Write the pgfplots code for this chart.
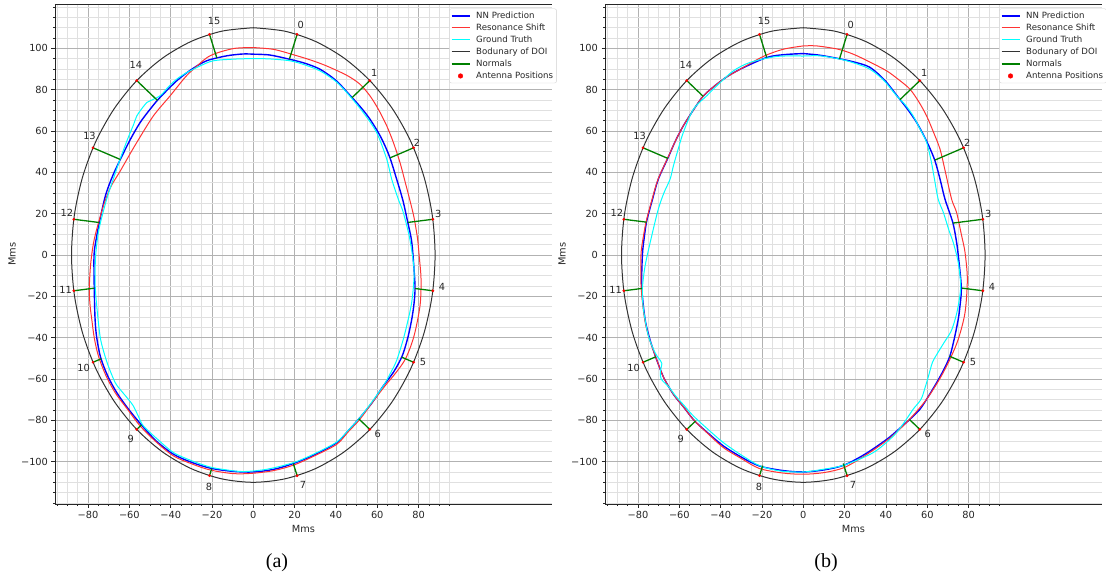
\documentclass[border=0pt]{standalone}
\usepackage{fontspec}
\setmainfont{DejaVu Sans}
\newfontfamily\capfont{Liberation Serif}
\usepackage{pgfplots}
\usepackage{pgfplotstable}
\pgfplotsset{compat=1.18}
\definecolor{mplgreen}{RGB}{0,128,0}
\definecolor{mplred}{RGB}{255,51,51}
\definecolor{mplblue}{RGB}{0,0,255}
\definecolor{mplcyan}{RGB}{0,255,255}
\definecolor{mpldot}{RGB}{255,0,0}
\definecolor{bndc}{RGB}{51,51,51}
\definecolor{txt}{RGB}{38,38,38}

\pgfplotstableread{
x y
0 110
15.28 108.33
30.10 103.37
44.0 95.26
56.57 84.26
67.41 70.71
76.21 55.0
82.69 37.62
86.66 19.10
88 0
86.66 -19.10
82.69 -37.62
76.21 -55.0
67.41 -70.71
56.57 -84.26
44.0 -95.26
30.10 -103.37
15.28 -108.33
0 -110
-15.28 -108.33
-30.10 -103.37
-44.0 -95.26
-56.57 -84.26
-67.41 -70.71
-76.21 -55.0
-82.69 -37.62
-86.66 -19.10
-88 0
-86.66 19.10
-82.69 37.62
-76.21 55.0
-67.41 70.71
-56.57 84.26
-44.0 95.26
-30.10 103.37
-15.28 108.33
0 110
}\ellipsetab

\pgfplotstableread{
x y
21.2 106.8
56.4 84.4
77.6 51.9
86.9 17.3
86.9 -17.3
77.6 -51.9
56.4 -84.4
21.2 -106.8
-21.2 -106.8
-56.4 -84.4
-77.6 -51.9
-86.9 -17.3
-86.9 17.3
-77.6 51.9
-56.4 84.4
-21.2 106.8
}\antennatab

\pgfplotstableread{
x y
21.2 106.8
17.47 94.77
nan nan
56.4 84.4
47.81 76.17
nan nan
77.6 51.9
66.2 47.02
nan nan
86.9 17.3
74.8 15.76
nan nan
86.9 -17.3
78.27 -16.2
nan nan
77.6 -51.9
71.81 -49.42
nan nan
56.4 -84.4
51.06 -79.28
nan nan
21.2 -106.8
19.36 -100.88
nan nan
-21.2 -106.8
-20.13 -103.36
nan nan
-56.4 -84.4
-54.16 -82.26
nan nan
-77.6 -51.9
-73.56 -50.17
nan nan
-86.9 -17.3
-76.98 -16.04
nan nan
-86.9 17.3
-74.5 15.72
nan nan
-77.6 51.9
-64.36 46.23
nan nan
-56.4 84.4
-46.43 74.85
nan nan
-21.2 106.8
-17.64 95.34
}\normalsA

\pgfplotstableread{
x y
21.2 106.8
17.5 94.86
nan nan
56.4 84.4
46.79 75.2
nan nan
77.6 51.9
63.63 45.92
nan nan
86.9 17.3
72.42 15.45
nan nan
86.9 -17.3
76.78 -16.01
nan nan
77.6 -51.9
70.71 -48.95
nan nan
56.4 -84.4
51.42 -79.63
nan nan
21.2 -106.8
19.36 -100.88
nan nan
-21.2 -106.8
-19.69 -101.93
nan nan
-56.4 -84.4
-52.14 -80.32
nan nan
-77.6 -51.9
-71.35 -49.22
nan nan
-86.9 -17.3
-78.07 -16.18
nan nan
-86.9 17.3
-75.89 15.9
nan nan
-77.6 51.9
-65.56 46.75
nan nan
-56.4 84.4
-48.53 76.86
nan nan
-21.2 106.8
-17.73 95.63
}\normalsB

\newcommand{\antlabels}{%
\node[antlab] at (axis cs:23,111.5) {0};
\node[antlab] at (axis cs:58.5,88.2) {1};
\node[antlab] at (axis cs:79.3,54.5) {2};
\node[antlab] at (axis cs:89.5,20.1) {3};
\node[antlab] at (axis cs:91.4,-15.5) {4};
\node[antlab] at (axis cs:82.2,-52) {5};
\node[antlab] at (axis cs:60.2,-86.5) {6};
\node[antlab] at (axis cs:24,-111.3) {7};
\node[antlab] at (axis cs:-21.4,-112.3) {8};
\node[antlab] at (axis cs:-59.3,-88.9) {9};
\node[antlab] at (axis cs:-82.2,-54.8) {10};
\node[antlab] at (axis cs:-90.9,-16.8) {11};
\node[antlab] at (axis cs:-90.3,20.6) {12};
\node[antlab] at (axis cs:-79.3,57.4) {13};
\node[antlab] at (axis cs:-56.9,92) {14};
\node[antlab] at (axis cs:-19,113.4) {15};
}

\tikzset{antlab/.style={font=\fontsize{9.8}{11}\selectfont, text=txt, inner sep=0pt, anchor=center}}

\pgfplotsset{
 antleg/.style={legend image code/.code={\draw[##1, mark size=2.3pt] plot coordinates {(9pt,0pt)};}},
 panel/.style={
  scale only axis, width=497pt, height=499.4pt,
  xmin=-96, xmax=144.6, ymin=-120.5, ymax=121.2,
  separate axis lines, axis x line*=bottom, axis y line*=left,
  axis line style={black!85, line width=0.6pt},
  xtick={-80,-60,...,80}, xticklabels={−80,−60,−40,−20,0,20,40,60,80},
  ytick={-100,-80,...,100}, yticklabels={−100,−80,−60,−40,−20,0,20,40,60,80,100},
  minor xtick={-95,-90,...,95}, minor ytick={-120,-115,...,120},
  grid=both,
  major grid style={draw=black!30, line width=0.6pt},
  minor grid style={draw=black!12, line width=0.5pt},
  tick align=outside, major tick length=3.5pt, minor tick length=2pt,
  every tick/.style={black!85, line width=0.6pt},
  tick label style={font=\fontsize{9.8}{11}\selectfont, text=txt},
  xlabel=Mms, ylabel=Mms,
  label style={font=\fontsize{9.8}{11}\selectfont, text=txt},
  xlabel style={at={(axis description cs:0.5,-0.05)}, anchor=center},
  ylabel style={at={(axis description cs:-0.0865,0.5)}, anchor=center},
  legend cell align=left,
  legend style={at={(axis description cs:0.793,0.992)}, anchor=north west,
    font=\fontsize{8.6}{10}\selectfont, text=txt, draw=black!18, fill=white,
    rounded corners=2pt, inner xsep=1.5pt, inner ysep=1pt, row sep=0pt,
    /tikz/every odd column/.append style={column sep=4pt}},
  legend image code/.code={\draw[mark repeat=2,mark phase=2,##1] plot coordinates {(0pt,0pt) (9pt,0pt) (18pt,0pt)};},
 }
}

\begin{document}
\begin{tikzpicture}[x=1pt,y=1pt]
\path[use as bounding box] (0,0) rectangle (1106,581);

% ---------------- panel (a) ----------------
\begin{axis}[panel, at={(55pt,77pt)}, anchor=south west]
\addplot[mplblue, line width=1.4pt, smooth] coordinates {
(0,97.2) (8,96.8) (17.3,94.8) (25,92.8) (32.3,89.9) (40,84.5) (46.8,77.3) (52,71.5) (56.5,65.7) (61.5,57.5) (65.8,48) (69.4,36.7) (72.4,26.5) (74.7,16.2) (76.6,7) (77.6,-4) (78.3,-15.7) (77.8,-23.5) (76.7,-31.1) (74.8,-40) (72.1,-48.8) (68,-56.5) (62.9,-63.4) (57.5,-71.5) (51.3,-79.1) (46,-85) (40.4,-90.8) (30,-96.5) (19.7,-100.8) (10,-103.7) (0,-105) (-10,-104.7) (-20.6,-103.2) (-30,-100.3) (-38.7,-96.4) (-47,-90) (-54,-82.4) (-60.5,-74.5) (-66.1,-66.6) (-70.5,-58.5) (-73.9,-49.6) (-75.8,-40) (-76.6,-31.1) (-77,-15.7) (-77.1,0) (-76,8) (-74.5,16) (-71.5,29) (-68,38.5) (-64.3,46.4) (-59.5,56) (-54.8,64.1) (-50,70.5) (-45.5,75.9) (-37.1,84.3) (-29.8,89.9) (-22.6,94) (-12.9,96.4) (-5,97.3) (0,97.2)
};
\addlegendentry{NN Prediction}
\addplot[mplred, line width=1pt, smooth] coordinates {
(0,100.4) (10,99.5) (20.2,96.7) (28,94.3) (35.5,91.5) (45.2,87) (51.6,82.7) (56.5,77) (60.5,70.6) (64.6,62.5) (67.8,54.5) (71,44.8) (73.6,35) (75.8,26.5) (77.8,18.2) (79.5,8) (80.3,-0.4) (81.2,-11.7) (80.7,-24.6) (77.8,-39.2) (73.8,-50) (69,-57) (63.7,-63.4) (57.5,-71.5) (51.6,-79.5) (46,-85.5) (40.4,-91.6) (30,-97) (19.7,-101.6) (10,-104.3) (0,-105.6) (-9.7,-105.8) (-21,-104) (-30,-101) (-38.7,-97.2) (-47,-90.5) (-54.8,-82.7) (-61,-74.5) (-66.9,-66.6) (-71.5,-58) (-75,-48.8) (-77,-40) (-78.2,-31.1) (-79,-24.6) (-79.4,-16.6) (-78.8,-5) (-77.5,5) (-75.8,12.5) (-72.5,24) (-69,33) (-64.5,40.5) (-60.5,47.5) (-56.4,54.5) (-48.4,67.3) (-40.3,77) (-33.1,85.9) (-29,89.9) (-21,96.4) (-9.7,99.9) (0,100.4)
};
\addlegendentry{Resonance Shift}
\addplot[mplcyan, line width=1pt, smooth] coordinates {
(0,95.1) (8,94.9) (17.8,94) (25,92) (32.3,89.1) (40,84) (46,77.8) (53.2,69) (59.7,59.3) (64.6,46.4) (67,36.7) (70.2,27) (72.6,20.6) (75.8,7.6) (77.8,-6.9) (77.4,-16.6) (76.5,-24) (75,-31.1) (72.6,-40.8) (69.4,-51) (66.5,-57) (62.9,-63.4) (57.5,-71) (51.6,-78.7) (46,-84.8) (40.4,-90.5) (30,-96) (19.7,-100.4) (6.5,-103.7) (-4.8,-104.8) (-13,-104) (-21,-102.6) (-30,-99.5) (-38.7,-95.6) (-46,-89.5) (-53.2,-82.7) (-55.7,-77.9) (-58.1,-73) (-60.5,-69.8) (-64.5,-65) (-66.9,-61.7) (-70.2,-53.7) (-72.5,-46.5) (-74.2,-39.2) (-75.8,-24.6) (-76.6,-13.3) (-76.3,0) (-74.7,12.5) (-71,27) (-67.8,36.7) (-64.5,46.4) (-60.5,57) (-58,63) (-56.4,67.3) (-53.5,71.5) (-51.6,73.8) (-45.2,77) (-41,81.5) (-37.1,85.1) (-32.2,88.3) (-25.8,91.5) (-19.4,94) (-9.7,94.8) (0,95.1)
};
\addlegendentry{Ground Truth}
\addplot[bndc, line width=1pt, smooth] table {\ellipsetab};
\addlegendentry{Bodunary of DOI}
\addplot[mplgreen, line width=1.3pt, unbounded coords=jump] table {\normalsA};
\addlegendentry{Normals}
\addplot[only marks, mark=*, mark size=1.2pt, mpldot, antleg] table {\antennatab};
\addlegendentry{Antenna Positions}
\draw[black!85, line width=0.6pt] (rel axis cs:0,1) -- (rel axis cs:1,1);
\antlabels
\end{axis}

% ---------------- panel (b) ----------------
\begin{axis}[panel, at={(605pt,77pt)}, anchor=south west]
\addplot[mplblue, line width=1.4pt, smooth] coordinates {
(0,97.5) (8,96.7) (16.9,95.1) (25,93.3) (32.3,90.8) (39.5,84.5) (45.5,76.9) (50.5,70.5) (54.9,64.1) (59.5,55.5) (63.5,46.3) (66.2,36.7) (68.6,27) (72.3,16) (74,7.5) (75,0) (76.5,-15.7) (75.8,-25) (75,-31.1) (73.2,-40) (71,-48.8) (68,-55.5) (64.6,-61.7) (60.5,-68.5) (56.5,-74.6) (51.6,-79.5) (46,-84.5) (40.4,-89.2) (30,-96.3) (19.7,-101.7) (10,-104) (0,-105) (-10,-104.3) (-21.3,-102.1) (-30,-97.8) (-38.7,-92.4) (-46,-86.3) (-52.7,-80.2) (-58,-73.5) (-62.9,-67.4) (-67.5,-59.5) (-70.5,-52) (-72.3,-47) (-74.5,-40) (-76.6,-31.1) (-78.2,-15.7) (-77.9,0) (-77,8.5) (-75.8,16.5) (-73,27) (-70.2,36.7) (-65.3,47.5) (-62,55) (-58.1,62.5) (-53,70.5) (-47.9,77.5) (-38.7,85.1) (-30.6,89.9) (-17.7,95.6) (-9,97) (0,97.5)
};
\addlegendentry{NN Prediction}
\addplot[mplred, line width=1pt, smooth] coordinates {
(0,101.2) (6.5,101.2) (16.9,99.6) (24.2,97.2) (32,93.5) (40.4,89.1) (46,85) (51.6,80.3) (56,74) (59.7,67.3) (63,59.5) (66.2,51.2) (68.6,41) (71.8,27) (74.2,20.6) (76.5,10) (78.3,1.2) (79.4,-11.7) (78.3,-27.8) (75,-40.8) (71,-50.4) (66,-60) (59.7,-69.8) (53,-77.8) (46.5,-84.5) (40.4,-89.8) (30,-97) (19.7,-102.9) (10,-105.3) (0,-106.1) (-10,-105.5) (-21.3,-103.3) (-30,-98.5) (-38.7,-93.2) (-46,-86.6) (-52.7,-80.2) (-58,-73.5) (-62.9,-67.4) (-67.5,-59.5) (-70.5,-52) (-72.3,-47) (-74.7,-40) (-76.8,-31.1) (-78.5,-15.7) (-78.6,0) (-77.5,8.5) (-76,16.5) (-73.2,27) (-70.3,36.7) (-65.4,47.5) (-62,55) (-58.1,62.5) (-53,70.5) (-47.9,77.5) (-38.7,85.1) (-30.6,89.9) (-19.4,96.1) (-9.7,99.6) (0,101.2)
};
\addlegendentry{Resonance Shift}
\addplot[mplcyan, line width=1pt, smooth] coordinates {
(0,96.3) (8,96.4) (17.8,94.8) (25,92.8) (32.3,89.9) (39,84.5) (45.2,77) (49.5,72.5) (53.2,67.3) (56.5,61) (59.7,54.5) (62,45) (63.5,36.7) (65.3,27) (67.8,20.6) (70.5,12) (72.6,6) (75,-3.6) (76.2,-15) (75,-24.6) (73.5,-31.1) (71.5,-37) (68,-42.6) (65,-47.5) (62.5,-52) (60.5,-59) (59,-64) (57,-69.8) (53.2,-74.6) (48.5,-81.5) (43.6,-87.6) (33.9,-95.6) (19.7,-101.7) (9.7,-103.7) (0,-105) (-11.3,-104.5) (-21.3,-101.9) (-30,-96.8) (-38.7,-90.8) (-46,-84.5) (-53.2,-77.9) (-58,-72.5) (-62,-68) (-65,-64) (-68.8,-60) (-69.2,-56.5) (-68.5,-52.5) (-70,-50) (-71.8,-47.2) (-75,-39.2) (-77.4,-26.2) (-77.9,-16.6) (-76.6,-5.3) (-73.4,9.2) (-70.2,22.2) (-67.5,30) (-64.5,36.7) (-62.9,43.1) (-60.5,51.5) (-58.1,59.3) (-53.2,70.6) (-46.8,77) (-41.9,81.9) (-33.9,89.1) (-25.8,93.2) (-12.9,96.1) (0,96.3)
};
\addlegendentry{Ground Truth}
\addplot[bndc, line width=1pt, smooth] table {\ellipsetab};
\addlegendentry{Bodunary of DOI}
\addplot[mplgreen, line width=1.3pt, unbounded coords=jump] table {\normalsB};
\addlegendentry{Normals}
\addplot[only marks, mark=*, mark size=1.2pt, mpldot, antleg] table {\antennatab};
\addlegendentry{Antenna Positions}
\draw[black!85, line width=0.6pt] (rel axis cs:0,1) -- (rel axis cs:1,1);
\antlabels
\end{axis}

\node[font=\capfont\fontsize{20}{24}\selectfont, inner sep=0pt] at (277,18) {(a)};
\node[font=\capfont\fontsize{20}{24}\selectfont, inner sep=0pt] at (826,18) {(b)};
\end{tikzpicture}
\end{document}
